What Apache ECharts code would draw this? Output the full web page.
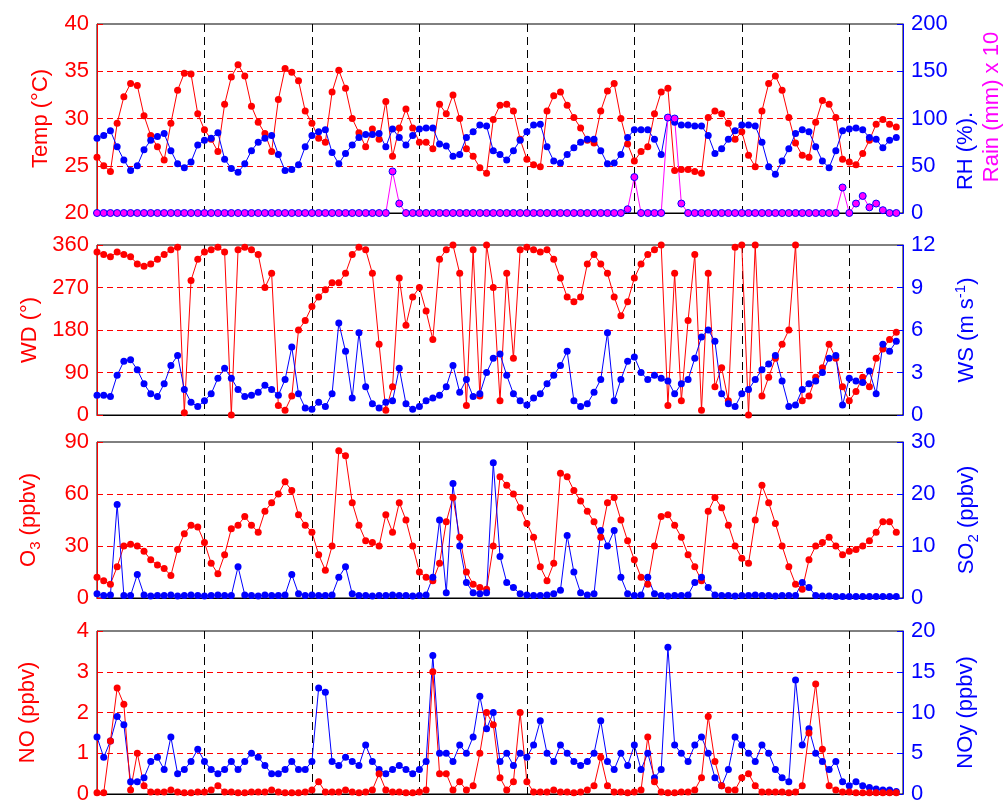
<!DOCTYPE html>
<html>
<head>
<meta charset="utf-8">
<script src="https://cdn.jsdelivr.net/npm/echarts@6/dist/echarts.min.js"></script>
<style>
html, body { margin: 0; padding: 0; background: #fff; }
#chart { width: 1005px; height: 805px; }
</style>
</head>
<body>
<div id="chart"></div>
<script>
var myChart = echarts.init(document.getElementById('chart'));

// 3-hourly samples, hour 0 .. 357
var STEP = 3;

// panel 1
var temp = [25.9,25.0,24.4,29.5,32.3,33.7,33.5,30.3,28.2,27.0,
  25.6,29.5,33.0,34.8,34.7,30.5,28.8,27.8,26.5,31.5,
  34.4,35.7,34.5,31.3,29.6,28.4,26.5,32.0,35.3,34.9,
  34.0,30.8,29.5,27.9,27.5,32.8,35.1,33.2,30.0,28.5,
  27.0,28.9,27.8,31.8,26.0,29.0,31.0,29.0,27.5,27.5,
  26.8,31.5,30.5,32.5,30.0,26.8,26.0,24.8,24.2,29.9,
  31.4,31.5,30.8,27.8,25.7,25.1,24.9,30.8,32.4,32.8,
  31.4,30.1,29.0,27.7,27.4,30.8,32.9,33.7,30.0,27.3,
  25.5,26.5,27.0,30.5,32.8,33.2,24.5,24.6,24.6,24.4,
  24.2,30.1,30.8,30.5,29.5,27.8,28.6,26.1,24.9,30.8,
  33.7,34.5,33.0,30.1,27.4,26.1,25.9,29.6,31.9,31.5,
  30.1,25.7,25.4,25.1,26.3,27.7,29.4,29.9,29.4,29.1];
var rh = [79,82,87,70,56,45,50,67,77,81,
  84,66,52,48,54,72,77,79,85,57,
  47,43,52,66,75,79,82,62,45,46,
  51,70,82,86,88,64,52,63,72,80,
  83,83,84,70,89,80,72,82,89,90,
  90,73,71,60,62,80,86,93,92,66,
  62,56,66,77,86,93,94,70,55,53,
  62,69,75,78,78,66,52,53,62,80,
  88,88,88,78,62,101,96,93,93,92,
  92,82,63,68,78,87,93,93,92,75,
  49,41,55,68,84,88,86,70,55,48,
  66,87,89,90,88,80,78,69,77,80];
var rainX10 = [0,0,0,0,0,0,0,0,0,0, 0,0,0,0,0,0,0,0,0,0,
  0,0,0,0,0,0,0,0,0,0, 0,0,0,0,0,0,0,0,0,0,
  0,0,0,0,44,10,0,0,0,0, 0,0,0,0,0,0,0,0,0,0,
  0,0,0,0,0,0,0,0,0,0, 0,0,0,0,0,0,0,0,0,4,
  38,0,0,0,0,101,100,10,0,0, 0,0,0,0,0,0,0,0,0,0,
  0,0,0,0,0,0,0,0,0,0, 0,27,0,10,18,6,10,3,0,0];

// panel 2
var wd = [345,340,335,345,340,335,320,315,320,330,
  340,350,355,5,285,330,345,350,355,345,
  0,350,355,350,340,270,300,20,10,40,
  180,200,230,250,265,280,280,300,340,355,
  350,300,150,10,60,290,190,250,270,220,
  160,330,350,360,300,20,350,40,360,270,
  30,300,120,350,355,350,345,350,330,290,
  250,240,250,320,340,320,300,250,210,240,
  290,320,340,350,360,20,300,30,200,340,
  10,300,60,100,30,355,360,0,360,40,
  80,120,150,180,360,30,40,80,100,150,
  120,60,30,50,80,60,120,140,160,175];
var ws = [1.4,1.4,1.3,2.8,3.8,3.9,3.2,2.2,1.5,1.3,
  2.2,3.5,4.2,1.8,0.9,0.6,1.0,1.5,2.6,3.3,
  2.6,1.8,1.3,1.4,1.6,2.1,1.8,1.4,2.5,4.8,
  1.5,0.5,0.4,0.9,0.6,1.5,6.5,4.5,1.2,5.8,
  2.0,0.8,0.5,0.9,1.0,3.3,0.8,0.4,0.6,1.0,
  1.2,1.4,2.0,3.5,1.6,2.5,1.3,1.5,3.0,4.0,
  4.3,2.8,1.5,1.0,0.7,1.2,1.5,2.2,2.8,3.5,
  4.5,1.0,0.6,0.8,1.6,2.5,5.8,1.0,2.5,3.8,
  4.1,3.0,2.5,2.8,2.6,2.4,1.5,2.2,2.5,4.0,
  5.5,6.0,5.2,1.5,0.8,0.6,1.5,1.8,2.5,3.2,
  3.6,4.2,2.4,0.6,0.7,1.8,2.2,2.4,3.0,4.0,
  4.2,0.7,2.6,2.4,2.3,3.1,1.5,5.0,4.5,5.2];

// panel 3
var o3 = [12,10,8,18,30,31,30,27,22,19,
  17,13,28,37,42,41,32,20,14,25,
  40,42,47,42,38,50,55,60,67,62,
  48,42,38,25,16,30,85,82,55,42,
  33,32,30,48,38,55,45,30,15,12,
  10,20,44,58,35,15,8,6,5,30,
  70,65,60,52,43,35,18,10,20,72,
  70,62,56,50,44,35,55,58,45,33,
  22,12,8,30,47,48,42,35,25,18,
  10,50,58,52,42,30,23,20,45,65,
  55,43,30,18,8,5,22,30,32,35,
  30,25,27,28,30,33,38,44,44,38];
var so2 = [0.8,0.5,0.6,18,0.5,0.5,4.5,0.6,0.4,0.5,
  0.5,0.6,0.4,0.5,0.6,0.5,0.4,0.5,0.6,0.5,
  0.5,6,0.6,0.5,0.4,0.6,0.5,0.5,0.6,4.5,
  0.8,0.5,0.6,0.5,0.5,0.6,4,6,0.8,0.5,
  0.5,0.4,0.5,0.5,0.6,0.5,0.5,0.4,0.5,0.6,
  4,15,1,22,10,3,1,0.8,1,26,
  8,3,2,0.8,0.6,0.5,0.5,0.6,0.8,1.5,
  12,5,1,0.6,0.8,13,10,13,4,0.8,
  0.5,0.6,4,0.8,0.5,0.4,0.5,0.5,0.6,3,
  4,2,0.6,0.5,0.5,0.4,0.5,0.5,0.6,0.5,
  0.5,0.4,0.5,0.5,0.5,3,2,0.5,0.4,0.4,
  0.3,0.3,0.3,0.3,0.3,0.3,0.3,0.3,0.3,0.3];

// panel 4
var no = [0.03,0.03,1.3,2.6,2.2,0.1,1.0,0.2,0.05,0.05,
  0.05,0.1,0.05,0.03,0.03,0.05,0.05,0.1,0.2,0.05,
  0.05,0.03,0.03,0.05,0.05,0.05,0.1,0.05,0.03,0.03,
  0.03,0.05,0.1,0.3,0.05,0.05,0.05,0.1,0.05,0.03,
  0.05,0.1,0.5,0.1,0.05,0.05,0.03,0.03,0.05,0.1,
  3.0,0.5,0.5,0.1,0.3,0.1,0.2,1.0,2.0,1.7,
  0.4,0.1,0.3,2.0,0.3,0.05,0.05,0.05,0.1,0.05,
  0.05,0.03,0.05,0.1,0.2,0.9,0.2,0.05,0.05,0.03,
  0.05,0.1,1.4,0.3,0.05,0.03,0.03,0.05,0.05,0.1,
  0.4,1.9,0.8,0.2,0.1,0.1,0.4,0.5,0.2,0.05,
  0.05,0.05,0.05,0.03,0.05,0.2,1.5,2.7,1.1,0.2,
  0.1,0.05,0.05,0.03,0.03,0.03,0.03,0.03,0.03,0.03];
var noy = [7,4.5,6.5,9.5,8.5,1.5,1.5,2,4,4.5,
  3,7,2.5,3,4,5.5,4,3,2.5,3,
  4,3,4,5,4.5,3.5,2.5,2.5,3,4,
  3,3,4,13,12.5,4,3.5,4.5,4,3.5,
  6,4,3,2.5,3,3.5,3,2.5,3,4,
  17,5,5,4,6,5,7,12,8,10,
  4,5,3.5,5,4.5,6,9,5,4,6,
  5,4,3.5,4,5,9,4,3,5,3.5,
  6,3,5,2,3,18,6,5,4,6,
  7,5,2,1,3,7,6,5,4,6,
  5,3,2,1.5,14,6,8,5,4,3,
  4,1.5,1,1.5,1,0.8,0.6,0.5,0.5,0.3];

var RED = '#ff0000', BLUE = '#0000ff', MAG = '#ff00ff';
var FONT = '"Liberation Sans", Arial, sans-serif';
var FS = 22;

function pairs(arr) {
  return arr.map(function (v, i) { return [i * STEP, v]; });
}

var panels = [
  { top: 24, height: 189 },
  { top: 245, height: 170 },
  { top: 442, height: 156 },
  { top: 631, height: 166 }
];

var grid = panels.map(function (p) {
  return { left: 97, right: 102, top: p.top, height: p.height,
    show: true, borderColor: '#000', borderWidth: 1 };
});

var xAxis = panels.map(function (p, i) {
  return {
    type: 'value', gridIndex: i, min: 0, max: 360, interval: 48,
    axisLabel: { show: false }, axisTick: { show: false },
    axisLine: { lineStyle: { color: '#000', width: 1 } },
    splitLine: { show: true, showMinLine: false, showMaxLine: false,
      lineStyle: { color: '#000', type: [8, 5], width: 1 } }
  };
});

function leftAxis(gi, min, max, interval, name, gap, rich) {
  return {
    type: 'value', gridIndex: gi, position: 'left', min: min, max: max, interval: interval,
    axisLine: { show: true, lineStyle: { color: RED, width: 1 } },
    axisTick: { show: true, inside: true, length: 6, lineStyle: { color: RED } },
    axisLabel: { color: RED, fontSize: FS, fontFamily: FONT, margin: 8 },
    splitLine: { show: true, showMinLine: false, showMaxLine: false,
      lineStyle: { color: RED, type: [6, 4], width: 1 } },
    name: name, nameLocation: 'middle', nameGap: gap, nameRotate: 90,
    nameTextStyle: { color: RED, fontSize: FS, fontFamily: FONT, rich: rich }
  };
}

function rightAxis(gi, min, max, interval, name, gap, rich) {
  return {
    type: 'value', gridIndex: gi, position: 'right', min: min, max: max, interval: interval,
    axisLine: { show: true, lineStyle: { color: BLUE, width: 1 } },
    axisTick: { show: true, inside: true, length: 6, lineStyle: { color: BLUE } },
    axisLabel: { color: BLUE, fontSize: FS, fontFamily: FONT, margin: 8 },
    splitLine: { show: false },
    name: name, nameLocation: 'middle', nameGap: gap, nameRotate: 90,
    nameTextStyle: { color: BLUE, fontSize: FS, fontFamily: FONT, rich: rich }
  };
}

function richFor(color) {
  return {
    a: { color: color, fontSize: FS, fontFamily: FONT, lineHeight: 28 },
    sub: { color: color, fontSize: 15, fontFamily: FONT, lineHeight: 15, verticalAlign: 'bottom' },
    sup: { color: color, fontSize: 15, fontFamily: FONT, lineHeight: 15, verticalAlign: 'top' }
  };
}

var yAxis = [
  leftAxis(0, 20, 40, 5, 'Temp (°C)', 45),
  rightAxis(0, 0, 200, 50, '', 52),
  leftAxis(1, 0, 360, 90, 'WD (°)', 48),
  rightAxis(1, 0, 12, 3, '{a|WS (m s}{sup|-1}{a|)}', 50, richFor(BLUE)),
  leftAxis(2, 0, 90, 30, '{a|O}{sub|3}{a| (ppbv)}', 54, richFor(RED)),
  rightAxis(2, 0, 30, 10, '{a|SO}{sub|2}{a| (ppbv)}', 50, richFor(BLUE)),
  leftAxis(3, 0, 4, 1, 'NO (ppbv)', 58),
  rightAxis(3, 0, 20, 5, 'NOy (ppbv)', 52)
];

function line(data, xi, yi, color, border) {
  return {
    type: 'line', xAxisIndex: xi, yAxisIndex: yi, data: pairs(data),
    symbol: 'circle', symbolSize: 7, showSymbol: true,
    lineStyle: { color: color, width: 1 },
    itemStyle: { color: color, borderColor: border || color, borderWidth: border ? 1 : 0 },
    animation: false
  };
}

var option = {
  backgroundColor: '#fff',
  animation: false,
  grid: grid,
  xAxis: xAxis,
  yAxis: yAxis,
  graphic: [
    { type: 'text', x: 966, y: 151, rotation: Math.PI / 2,
      style: { text: 'RH (%).', fill: BLUE, fontSize: FS, fontFamily: FONT, align: 'center', verticalAlign: 'middle' } },
    { type: 'text', x: 992, y: 107, rotation: Math.PI / 2,
      style: { text: 'Rain (mm) x 10', fill: MAG, fontSize: FS, fontFamily: FONT, align: 'center', verticalAlign: 'middle' } }
  ],
  series: [
    line(temp, 0, 0, RED),
    line(rh, 0, 1, BLUE),
    line(rainX10, 0, 1, MAG, BLUE),
    line(wd, 1, 2, RED),
    line(ws, 1, 3, BLUE),
    line(o3, 2, 4, RED),
    line(so2, 2, 5, BLUE),
    line(noy, 3, 7, BLUE),
    line(no, 3, 6, RED)
  ]
};

myChart.setOption(option);
</script>
</body>
</html>
